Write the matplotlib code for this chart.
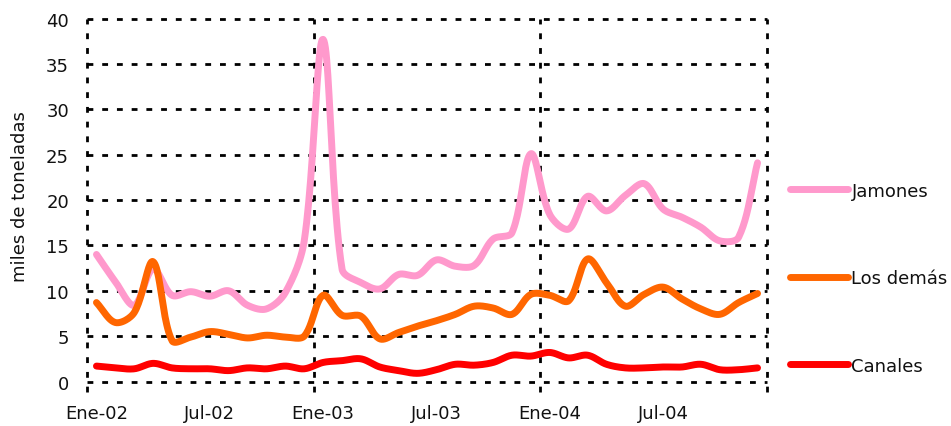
import numpy as np
import matplotlib
matplotlib.use("Agg")
import matplotlib.pyplot as plt


# ============================================================
# DATA (miles de toneladas, mensual Ene-02 .. Dic-04)
# ============================================================
months = list(range(36))
tick_pos = [0, 6, 12, 18, 24, 30]
tick_labels = ["Ene-02", "Jul-02", "Ene-03", "Jul-03", "Ene-04", "Jul-04"]

jamones = [14.0, 11.0, 8.4, 12.4, 9.5, 9.9, 9.4, 10.0, 8.4, 8.0, 9.8, 15.5,
           37.7, 12.4, 10.9, 10.2, 11.8, 11.7, 13.4, 12.7, 12.8, 15.7, 16.4, 25.1,
           18.4, 16.8, 20.4, 18.8, 20.5, 21.8, 19.0, 18.1, 17.0, 15.5, 15.9, 24.1]

los_demas = [8.7, 6.5, 7.6, 13.2, 4.5, 4.9, 5.5, 5.2, 4.8, 5.1, 4.9, 5.0,
             9.5, 7.3, 7.2, 4.7, 5.4, 6.1, 6.7, 7.4, 8.3, 8.1, 7.4, 9.6,
             9.5, 8.9, 13.5, 10.9, 8.3, 9.6, 10.4, 9.1, 8.0, 7.4, 8.7, 9.7]

canales = [1.7, 1.5, 1.4, 2.0, 1.5, 1.4, 1.4, 1.2, 1.5, 1.4, 1.7, 1.4,
           2.1, 2.3, 2.5, 1.6, 1.2, 0.9, 1.3, 1.9, 1.8, 2.1, 2.9, 2.8,
           3.2, 2.6, 2.9, 1.9, 1.5, 1.5, 1.6, 1.6, 1.9, 1.3, 1.3, 1.5]

series = [
    ("Jamones", jamones, "#FF99CC"),
    ("Los demás", los_demas, "#FF6600"),
    ("Canales", canales, "#FF0000"),
]

# pixel scale of one month / one unit, used only for the smoothing weights
PX_X = 18.89
PX_Y = 9.08


# ============================================================
# HELPERS
# ============================================================
def smooth(xs, ys, n=24):
    # Excel-like smoothed line: bezier through the points, tangents
    # weighted by neighbouring chord lengths (less overshoot at spikes)
    P = np.column_stack([np.asarray(xs, float) * PX_X, np.asarray(ys, float) * PX_Y])
    m = len(P)
    c_out = np.zeros_like(P)
    c_in = np.zeros_like(P)
    for i in range(m):
        prev = P[max(i - 1, 0)]
        nxt = P[min(i + 1, m - 1)]
        d_prev = np.hypot(*(P[i] - prev))
        d_next = np.hypot(*(nxt - P[i]))
        T = nxt - prev
        tot = d_prev + d_next
        if tot == 0:
            c_out[i] = P[i]
            c_in[i] = P[i]
            continue
        c_out[i] = P[i] + T * (d_next / tot) / 3
        c_in[i] = P[i] - T * (d_prev / tot) / 3
    t = np.linspace(0, 1, n, endpoint=False)[:, None]
    pts = []
    for i in range(m - 1):
        p1, p2 = P[i], P[i + 1]
        a, b = c_out[i], c_in[i + 1]
        seg = (1 - t) ** 3 * p1 + 3 * (1 - t) ** 2 * t * a + 3 * (1 - t) * t ** 2 * b + t ** 3 * p2
        pts.append(seg)
    pts.append(P[-1:])
    pts = np.vstack(pts)
    return pts[:, 0] / PX_X, pts[:, 1] / PX_Y


# ============================================================
# FIGURE
# ============================================================
plt.rcParams["font.family"] = ["DejaVu Sans"]
plt.rcParams["font.size"] = 13

fig = plt.figure(figsize=(9.51, 4.27), dpi=100)
ax = fig.add_axes([0.0915, 0.1042, 0.715, 0.8501])

ax.set_xlim(-0.5, 35.5)
ax.set_ylim(0, 40)

grid_style = dict(color="black", linewidth=2, linestyle=(0, (2.1, 3.2)), zorder=1)
for yv in range(0, 41, 5):
    ax.axhline(yv, clip_on=False, **grid_style)
for xv in [-0.5, 11.5, 23.5, 35.5]:
    ax.axvline(xv, ymin=-10 / 363, ymax=1, clip_on=False, **grid_style)

for name, vals, col in series:
    sx, sy = smooth(months, vals)
    ax.plot(sx, sy, color=col, linewidth=5, solid_capstyle="round",
            solid_joinstyle="round", label=name, zorder=3)

for s in ax.spines.values():
    s.set_visible(False)

ax.set_xticks(tick_pos)
ax.set_xticklabels(tick_labels)
ax.set_yticks(range(0, 41, 5))
ax.tick_params(axis="x", length=0, pad=16, labelsize=13, colors="#111111")
ax.tick_params(axis="y", length=0, pad=13, labelsize=13, colors="#111111")

fig.text(20 / 951, 1 - 197 / 427, "miles de toneladas", rotation=90,
         ha="center", va="center", fontsize=13, color="#111111")

ax.legend(loc="center left", bbox_to_anchor=(1.034, 0.285), frameon=False,
          borderaxespad=0, borderpad=0, handlelength=3.2, handletextpad=0.2,
          labelspacing=3.85, fontsize=13, labelcolor="#111111")

fig.savefig("out.png", dpi=100)
plt.close(fig)
